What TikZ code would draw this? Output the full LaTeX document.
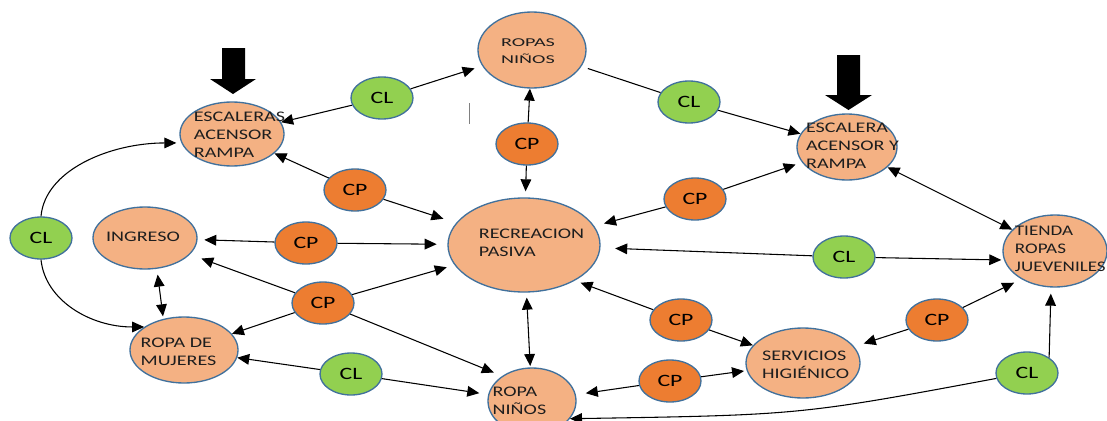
\documentclass[tikz,border=0pt]{standalone}
\usepackage{fontspec}
\usepackage{graphicx}
\newfontfamily\carl[FakeStretch=1.37]{Carlito}
\newfontfamily\carlw[FakeStretch=1.68]{Carlito}
\newfontfamily\carln[FakeStretch=1.3]{Carlito}
\usetikzlibrary{shapes.geometric,arrows.meta}
\definecolor{tanf}{HTML}{F4B183}
\definecolor{bd}{HTML}{41719C}
\definecolor{cpo}{HTML}{ED7D31}
\definecolor{clg}{HTML}{92D050}
\definecolor{txt}{HTML}{1E1E1E}
\newcommand{\tl}[3]{\smash{\makebox[0pt]{\hspace*{#1pt}\raisebox{\dimexpr-#2pt-2.75pt\relax}{\begin{tabular}{@{}l@{}}#3\end{tabular}}\hspace*{-#1pt}}}}
\begin{document}
\begin{tikzpicture}[x=0.75pt,y=-0.75pt,
  big/.style={ellipse,draw=bd,fill=tanf,line width=1pt,inner sep=0pt,font=\carl\fontsize{11}{13.2}\selectfont,text=txt},
  cpn/.style={ellipse,draw=bd,fill=cpo,line width=1pt,inner sep=0pt,minimum width=46.5pt,minimum height=31.5pt,font=\carl\fontsize{13}{15}\selectfont,text=black},
  cln/.style={cpn,fill=clg},
  arr/.style={line width=0.8pt,-{Triangle[length=9pt,width=8pt]}},
  dbl/.style={line width=0.8pt,{Triangle[length=9pt,width=8pt]}-{Triangle[length=9pt,width=8pt]}},
  plain/.style={line width=0.8pt}]
\fill[white] (0,0) rectangle (1107,421);
\useasboundingbox (0,0) rectangle (1107,421);
\clip (0,0) rectangle (1107,421);
% big nodes
\node[big,minimum width=78pt,minimum height=48pt] (escL) at (232,134) {\tl{5.6}{1.5}{ESCALERAS\\ACENSOR\\RAMPA}};
\node[big,minimum width=81pt,minimum height=57pt] (ropT) at (532,50) {\carlw\fontsize{9}{12.75}\selectfont\tl{-3}{0.75}{ROPAS\\NIÑOS}};
\node[big,minimum width=75pt,minimum height=49.5pt] (escR) at (847,147) {\tl{4.1}{0}{ESCALERA\\ACENSOR Y\\RAMPA}};
\node[big,minimum width=78pt,minimum height=46.5pt] (ing) at (145,238) {\tl{-1.5}{0}{INGRESO}};
\node[big,minimum width=114pt,minimum height=70.5pt] (rec) at (524,245) {\tl{5.6}{-0.75}{RECREACION\\PASIVA}};
\node[big,minimum width=81pt,minimum height=49.5pt] (muj) at (184,350) {\tl{-4.1}{2.25}{ROPA DE\\MUJERES}};
\node[big,minimum width=66pt,minimum height=49.5pt] (ropB) at (532,401) {\tl{-9.4}{0.75}{ROPA\\NIÑOS}};
\node[big,minimum width=85.5pt,minimum height=52.5pt] (ser) at (803,363) {\tl{1.9}{2.25}{SERVICIOS\\HIGIÉNICO}};
\node[big,minimum width=78pt,minimum height=54pt] (tie) at (1055,251) {\carln\tl{4}{-0.75}{TIENDA\\ROPAS\\JUEVENILES}};
% small nodes
\node[cln] (clTL) at (382,98) {CL};
\node[cpn] (cpTC) at (527,144) {CP};
\node[cln] (clTR) at (689,102) {CL};
\node[cpn] (cpTL) at (355,190) {CP};
\node[cpn] (cpTR) at (695,199) {CP};
\node[cln] (clL) at (41,238) {CL};
\node[cpn] (cpML) at (306,243) {CP};
\node[cln] (clMR) at (844,257) {CL};
\node[cpn] (cpLL) at (323,303) {CP};
\node[cpn] (cpLR) at (681,320) {CP};
\node[cpn] (cpR) at (937,320) {CP};
\node[cln] (clBL) at (351,374) {CL};
\node[cln] (clBR) at (1027,373) {CL};
\node[cpn] (cpB) at (670,381) {CP};
% block arrows
\fill (222,48) -- (245,48) -- (245,79) -- (256,79) -- (233,94) -- (210,79) -- (222,79) -- cycle;
\fill (837,55) -- (860,55) -- (860,95) -- (872,95) -- (848.5,110) -- (825,95) -- (837,95) -- cycle;
\draw[gray,line width=0.6pt] (469,103) -- (469,124);
% connectors
\draw[arr] (clTL) -- (escL);
\draw[arr,shorten >=6pt] (clTL) -- (ropT);
\draw[arr] (cpTL) -- (escL);
\draw[arr,shorten >=10pt] (cpTL) -- (rec);
\draw[arr] (cpTC) -- (ropT);
\draw[arr,shorten >=4.5pt] (cpTC) -- (rec);
\draw[plain,shorten <=5pt] (ropT) -- (clTR);
\draw[arr] (clTR) -- (escR);
\draw[arr,shorten >=7.5pt] (cpTR) -- (rec);
\draw[arr,shorten >=5pt] (cpTR) -- (escR);
\draw[dbl] (escR) -- (tie);
\draw[arr,shorten >=3.75pt] (clL.north) .. controls (45,170) and (110,143) .. (escL.190);
\draw[arr] (clL.south) .. controls (45,300) and (90,327) .. (muj.150);
\draw[dbl,shorten <=3.75pt] ([xshift=9pt]ing.south) -- ([xshift=-15.75pt]muj.north);
\draw[arr,shorten >=5pt] (cpML) -- (ing);
\draw[arr,shorten >=8pt] (cpML) -- (rec);
\draw[arr,shorten >=9pt] (cpLL) -- (ing);
\draw[arr] (cpLL) -- (muj);
\draw[arr,shorten >=6pt] (cpLL) -- (rec);
\draw[arr,shorten >=6.75pt] (cpLL) -- (ropB.140);
\draw[arr] (clBL) -- (muj);
\draw[arr,shorten >=6.75pt] (clBL) -- (ropB);
\draw[dbl,shorten <=3.75pt,shorten >=1pt] (rec) -- (ropB);
\draw[arr,shorten >=11pt] (clMR) -- (rec);
\draw[arr,shorten >=2pt] (clMR) -- (tie.190);
\draw[arr,shorten >=4.5pt] (cpLR) -- (rec.-35);
\draw[arr] (cpLR) -- (ser);
\draw[arr,shorten >=7.5pt] (cpB) -- (ropB);
\draw[arr,shorten >=2pt] (cpB) -- (ser);
\draw[arr,shorten >=7.5pt] (cpR) -- (ser);
\draw[arr,shorten >=6pt] (cpR) -- (tie.220);
\draw[arr,shorten >=4.5pt] (clBR.35) -- ([xshift=-3pt]tie.south);
\draw[arr] (clBR.190) .. controls (800,415) .. (ropB.-25);
\end{tikzpicture}
\end{document}
